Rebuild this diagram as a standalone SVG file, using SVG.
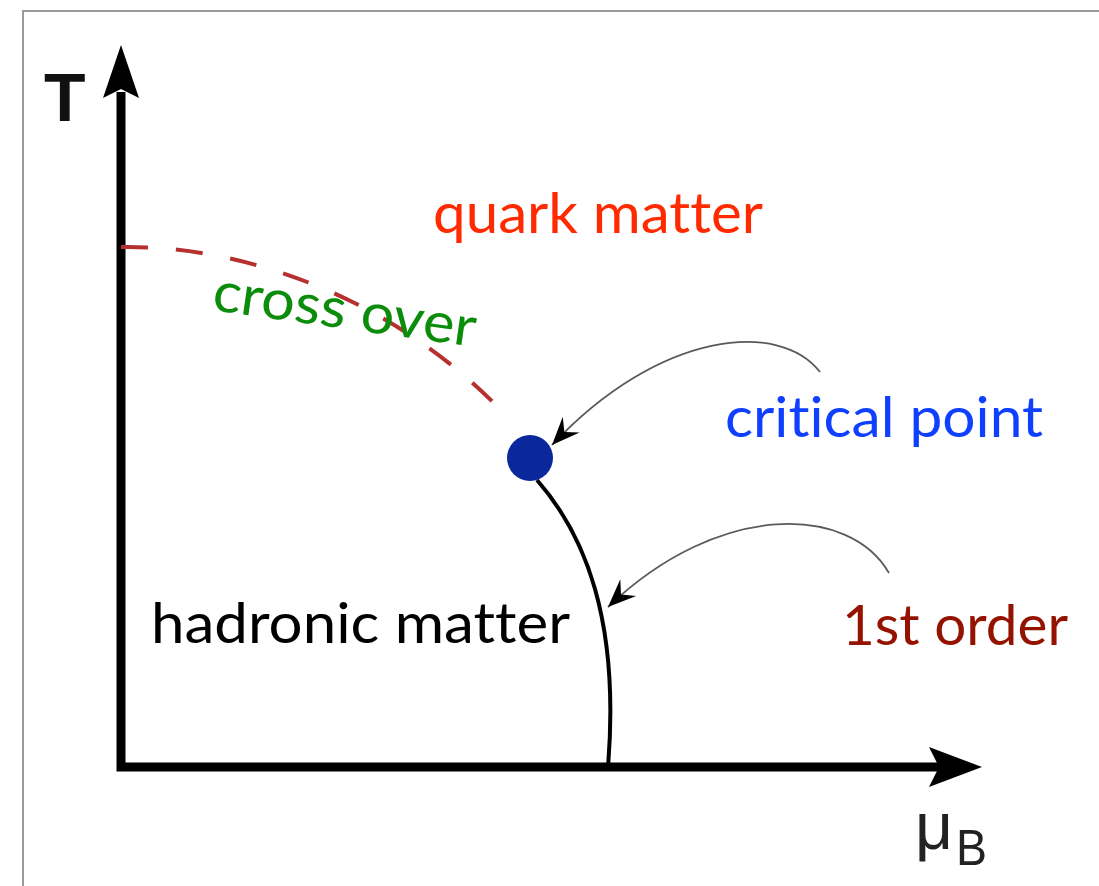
<svg xmlns="http://www.w3.org/2000/svg" width="1099" height="886" viewBox="0 0 1099 886">
  <style>
    .lbl { font-family: "Lato", "Open Sans", "Liberation Sans", sans-serif; font-size: 56px; font-variant-ligatures: none; }
    .axis { fill: none; stroke: #000; stroke-width: 9; stroke-linejoin: miter; }
    .pointer { fill: none; stroke: #5a5a5a; stroke-width: 1.8; }
  </style>
  <defs>
    <marker id="ah" markerUnits="userSpaceOnUse" viewBox="-30 -14 32 28" refX="0" refY="0" markerWidth="32" markerHeight="28" orient="auto">
      <path d="M0,0 L-28,-11.5 L-18,0 L-28,11.5 Z" fill="#000"/>
    </marker>
  </defs>
  <rect width="1099" height="886" fill="#fff"/>
  <path d="M1100,11 H23 V887" fill="none" stroke="#9a9a9a" stroke-width="2"/>

  <g id="axes">
    <path class="axis" d="M121,92 V767 H940"/>
    <polygon points="121,45 139,98 121,89 103,98" fill="#000"/>
    <polygon points="982,767 929,747 939,767 929,787" fill="#000"/>
    <text x="44" y="121" font-family="Liberation Sans, Arial, sans-serif" font-weight="bold" font-size="68" fill="#111">T</text>
    <text x="915" y="849" font-family="Liberation Sans, Arial, sans-serif" font-size="66" fill="#222">μ</text>
    <text x="956" y="865" font-family="Liberation Sans, Arial, sans-serif" font-size="50" fill="#222" textLength="31" lengthAdjust="spacingAndGlyphs">B</text>
  </g>

  <g id="connectors">
    <path id="crossover-line" d="M121,247 C260,245 410,310 510,420" fill="none" stroke="#b5302f" stroke-width="4" stroke-dasharray="27 28"/>
    <path id="first-order-line" d="M537,480 C585,535 620,620 608,767" fill="none" stroke="#000" stroke-width="4"/>
    <path class="pointer" d="M820,372 C780,320 660,330 552,445" marker-end="url(#ah)"/>
    <path class="pointer" d="M889,573 C850,505 720,500 608,607" marker-end="url(#ah)"/>
  </g>

  <g id="critical-point-dot">
    <circle cx="530" cy="458" r="23" fill="#0a279c"/>
  </g>

  <g id="quark-matter">
    <text class="lbl" x="433" y="233" fill="#ff2a00" textLength="330" lengthAdjust="spacingAndGlyphs">quark matter</text>
  </g>
  <g id="cross-over">
    <text class="lbl" transform="translate(211,310) rotate(8)" x="0" y="0" fill="#0b8c0b" textLength="265" lengthAdjust="spacingAndGlyphs">cross over</text>
  </g>
  <g id="critical-point">
    <text class="lbl" x="725" y="437" fill="#1040ff" textLength="318" lengthAdjust="spacingAndGlyphs">critical point</text>
  </g>
  <g id="hadronic-matter">
    <text class="lbl" x="151" y="643" fill="#000" textLength="419" lengthAdjust="spacingAndGlyphs">hadronic matter</text>
  </g>
  <g id="first-order">
    <text class="lbl" x="842" y="645" fill="#931200" textLength="226" lengthAdjust="spacingAndGlyphs">1st order</text>
  </g>
</svg>
